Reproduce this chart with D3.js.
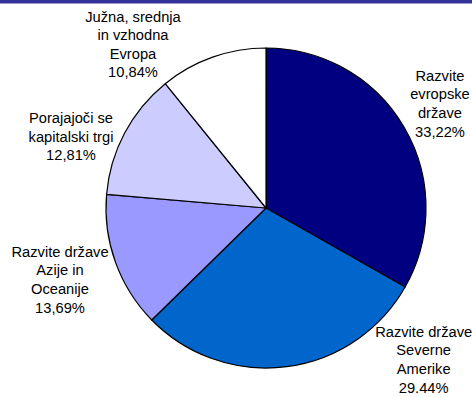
<!DOCTYPE html>
<html>
<head>
<meta charset="utf-8">
<script src="https://cdn.jsdelivr.net/npm/d3@7"></script>
<style>
  html, body { margin: 0; padding: 0; background: #fff; }
  svg { display: block; }
</style>
</head>
<body>
<svg id="chart" width="472" height="397"></svg>
<script>
// Regional split of the portfolio, clockwise from 12 o'clock
const regions = [
  ["Razvite", "evropske", "države"],
  ["Razvite države", "Severne", "Amerike"],
  ["Razvite države", "Azije in", "Oceanije"],
  ["Porajajoči se", "kapitalski trgi"],
  ["Južna, srednja", "in vzhodna", "Evropa"]
];
const shares = [33.22, 29.44, 13.69, 12.81, 10.84];
const shareLabels = ["33,22%", "29.44%", "13,69%", "12,81%", "10,84%"];
const sliceColors = ["#000080", "#0066CC", "#9999FF", "#CCCCFF", "#FFFFFF"];

// Layout
const W = 472, H = 397;
const cx = 266, cy = 208, R = 160;
const fontSize = 14.7, lineGap = 18.6;
// first-line baseline anchor of each label block
const labelAnchor = [
  [440, 80.7],
  [423.7, 336.7],
  [60, 256.7],
  [71, 123],
  [133, 21.5]
];

const svg = d3.select("#chart");

// header strip along the top edge
svg.append("rect")
  .attr("x", 0).attr("y", 0)
  .attr("width", W).attr("height", 3.5)
  .attr("fill", "#333399");

const pie = d3.pie().sort(null).value(d => d)
  .startAngle(0).endAngle(2 * Math.PI);
const arc = d3.arc().innerRadius(0).outerRadius(R);

const g = svg.append("g").attr("transform", `translate(${cx},${cy})`);

g.selectAll("path.slice")
  .data(pie(shares))
  .join("path")
  .attr("class", "slice")
  .attr("d", arc)
  .attr("fill", (d, i) => sliceColors[i])
  .attr("stroke", "#000")
  .attr("stroke-width", 1.2)
  .attr("stroke-linejoin", "round");

const labels = svg.append("g")
  .attr("font-family", "'Liberation Sans', Arial, sans-serif")
  .attr("font-size", fontSize)
  .attr("fill", "#000")
  .attr("text-anchor", "middle");

regions.forEach((lines, i) => {
  const [x, y] = labelAnchor[i];
  const t = labels.append("text").attr("x", x).attr("y", y);
  lines.concat([shareLabels[i]]).forEach((ln, k) => {
    t.append("tspan").attr("x", x).attr("y", y + k * lineGap).text(ln);
  });
});
</script>
</body>
</html>
